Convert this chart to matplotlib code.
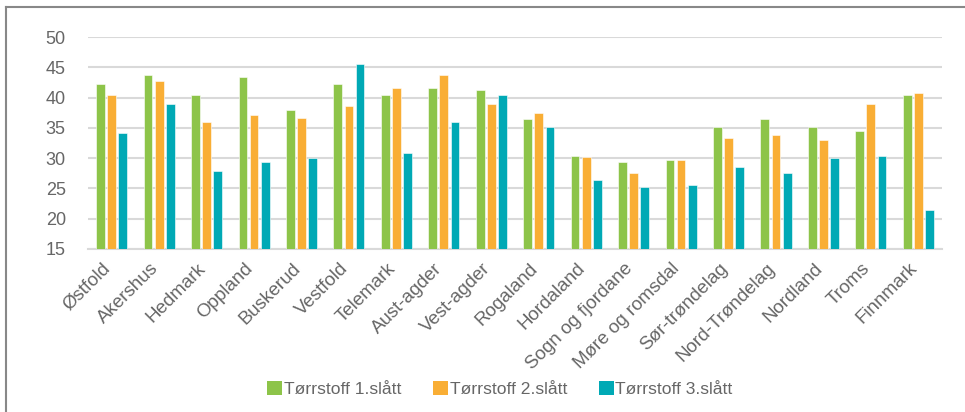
import numpy as np
import matplotlib.pyplot as plt
import matplotlib.transforms as mtransforms
from matplotlib.lines import Line2D
from matplotlib.patches import Patch

plt.rcParams['font.family'] = ['Liberation Sans', 'DejaVu Sans']

fylker = ['Østfold', 'Akershus', 'Hedmark', 'Oppland', 'Buskerud', 'Vestfold',
          'Telemark', 'Aust-agder', 'Vest-agder', 'Rogaland', 'Hordaland',
          'Sogn og fjordane', 'Møre og romsdal', 'Sør-trøndelag',
          'Nord-Trøndelag', 'Nordland', 'Troms', 'Finnmark']

slatt1 = [42.3, 43.8, 40.4, 43.4, 37.9, 42.3, 40.4, 41.6, 41.2, 36.4, 30.4,
          29.3, 29.7, 35.2, 36.4, 35.2, 34.5, 40.5]
slatt2 = [40.4, 42.7, 36.0, 37.1, 36.7, 38.6, 41.6, 43.8, 39.0, 37.5, 30.1,
          27.5, 29.7, 33.4, 33.8, 33.0, 39.0, 40.8]
slatt3 = [34.1, 39.0, 27.8, 29.3, 30.0, 45.6, 30.8, 35.9, 40.4, 35.2, 26.3,
          25.2, 25.6, 28.6, 27.5, 30.0, 30.4, 21.5]

serier = ['Tørrstoff 1.slått', 'Tørrstoff 2.slått', 'Tørrstoff 3.slått']
farger = ['#8DC449', '#F9AE35', '#00A9B5']
tekst = '#666666'

fig = plt.figure(figsize=(9.65, 4.12), dpi=100)
ax = fig.add_axes([0.0912, 0.396, 0.885, 0.514])

x = np.arange(len(fylker))
bredde = 0.185
steg = 0.235
for i, (verdier, farge) in enumerate(zip([slatt1, slatt2, slatt3], farger)):
    ax.bar(x + (i - 1) * steg, np.array(verdier) - 15, bottom=15, width=bredde,
           color=farge, edgecolor='#ffffff', linewidth=0.4, zorder=3)

ax.set_ylim(15, 50)
ax.set_xlim(-0.5, len(fylker) - 0.5)
ax.set_yticks(range(15, 51, 5))
ax.yaxis.grid(True, color='#d9d9d9', linewidth=1.5, zorder=0)
ax.tick_params(axis='y', length=0, pad=16, labelsize=13, labelcolor=tekst)
ax.tick_params(axis='x', length=0, pad=8, labelsize=13.5, labelcolor=tekst)
ax.set_xticks(x)
ax.set_xticklabels(fylker, rotation=45, ha='right', va='top',
                   rotation_mode='anchor')
# flytt etikettene litt mot venstre
skift = mtransforms.ScaledTranslation(-7 / 72, 0, fig.dpi_scale_trans)
for lbl in ax.get_xticklabels():
    lbl.set_transform(lbl.get_transform() + skift)
for s in ['top', 'right', 'left']:
    ax.spines[s].set_visible(False)
ax.spines['bottom'].set_color('#d9d9d9')
ax.spines['bottom'].set_linewidth(1.5)

handles = [Patch(facecolor=f, edgecolor='none') for f in farger]
fig.legend(handles, serier, loc='center', bbox_to_anchor=(0.518, 0.055),
           ncol=3, frameon=False, fontsize=12.6, labelcolor=tekst,
           handlelength=0.86, handleheight=0.86, handletextpad=0.1,
           columnspacing=1.8)

# ramme oppe og til venstre
fig.add_artist(Line2D([0.0067, 1.0], [0.982, 0.982], color='#888888',
                      linewidth=1.5, transform=fig.transFigure))
fig.add_artist(Line2D([0.0067, 0.0067], [0.0, 0.982], color='#888888',
                      linewidth=1.5, transform=fig.transFigure))

fig.savefig('out.png', dpi=100)
